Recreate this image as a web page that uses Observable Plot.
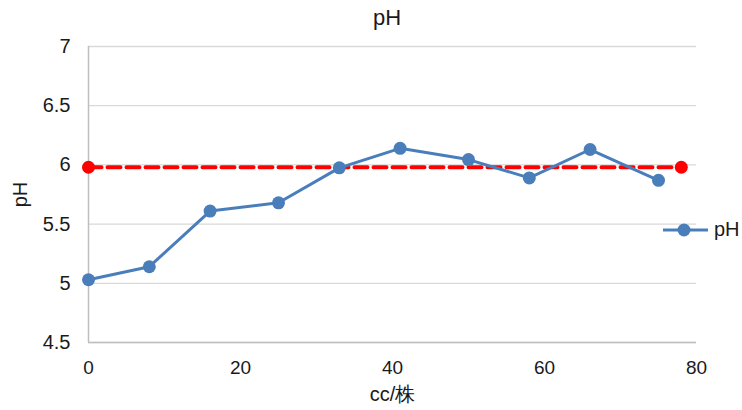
<!DOCTYPE html>
<html><head><meta charset="utf-8">
<script src="https://cdn.jsdelivr.net/npm/d3@7"></script>
<script src="https://cdn.jsdelivr.net/npm/@observablehq/plot@0.6"></script>
<style>
body{margin:0;background:#fff;font-family:"Liberation Sans",Arial,sans-serif}
#wrap{position:relative;width:742px;height:410px;overflow:hidden}
#title{position:absolute;left:0;width:774px;top:5px;text-align:center;font-size:22px;color:#1a1a1a}
#legend{position:absolute;left:660px;top:218px;display:flex;align-items:center;font-size:20px;color:#1a1a1a}
</style></head><body><div id="wrap"><div id="title">pH</div></div>
<script>
const xValues = [0, 8, 16, 25, 33, 41, 50, 58, 66, 75];
const phValues = [5.03, 5.14, 5.61, 5.68, 5.975, 6.14, 6.045, 5.89, 6.13, 5.87];
const refX = [0, 78];
const refY = [5.98, 5.98];
const xTicks = [0, 20, 40, 60, 80];
const yTicks = [4.5, 5, 5.5, 6, 6.5, 7];
const seriesName = "pH";
const xLabel = "cc/株";
const yLabel = "pH";

const blue = "#4a7ebb", red = "#ff0000";
const data = xValues.map((x, i) => ({x, y: phValues[i]}));
const ref = refX.map((x, i) => ({x, y: refY[i]}));

const chart = Plot.plot({
  width: 742, height: 410,
  marginLeft: 88, marginRight: 46, marginTop: 46, marginBottom: 68,
  style: {fontFamily: '"Liberation Sans", Arial, sans-serif', fontSize: "20px", color: "#1a1a1a", background: "transparent"},
  x: {domain: [0, 80], label: null},
  y: {domain: [4.5, 7], label: null},
  marks: [
    Plot.gridY(yTicks, {stroke: "#d9d9d9", strokeOpacity: 1, strokeWidth: 1.3}),
    Plot.ruleX([0], {stroke: "#bfbfbf", strokeWidth: 1.5}),
    Plot.ruleY([4.5], {stroke: "#bfbfbf", strokeWidth: 1.5}),
    Plot.axisX({ticks: xTicks, tickSize: 0, tickPadding: 18, label: null, fontSize: 19}),
    Plot.axisX({ticks: [], label: xLabel, labelArrow: "none", labelAnchor: "center", labelOffset: 58, fontSize: 20}),
    Plot.axisY({ticks: yTicks, tickSize: 0, tickPadding: 18, tickFormat: d => String(d), label: null, fontSize: 20}),
    Plot.axisY({ticks: [], label: yLabel, labelArrow: "none", labelAnchor: "center", labelOffset: 76, fontSize: 20}),
    Plot.line(ref, {x: "x", y: "y", stroke: red, strokeWidth: 4, strokeDasharray: "13,6"}),
    Plot.dot(ref, {x: "x", y: "y", r: 6.5, fill: red}),
    Plot.line(data, {x: "x", y: "y", stroke: blue, strokeWidth: 3}),
    Plot.dot(data, {x: "x", y: "y", r: 6.5, fill: blue})
  ]
});
chart.style.position = "absolute";
chart.style.left = "0"; chart.style.top = "0";
const wrap = document.getElementById("wrap");
wrap.insertBefore(chart, wrap.firstChild);

const lg = document.createElement("div");
lg.id = "legend";
lg.innerHTML = `<svg width="50" height="20"><line x1="3" y1="10" x2="48" y2="10" stroke="${blue}" stroke-width="3"/><circle cx="24" cy="10" r="6.5" fill="${blue}"/></svg><span style="margin-left:4px">${seriesName}</span>`;
wrap.appendChild(lg);
</script></body></html>
